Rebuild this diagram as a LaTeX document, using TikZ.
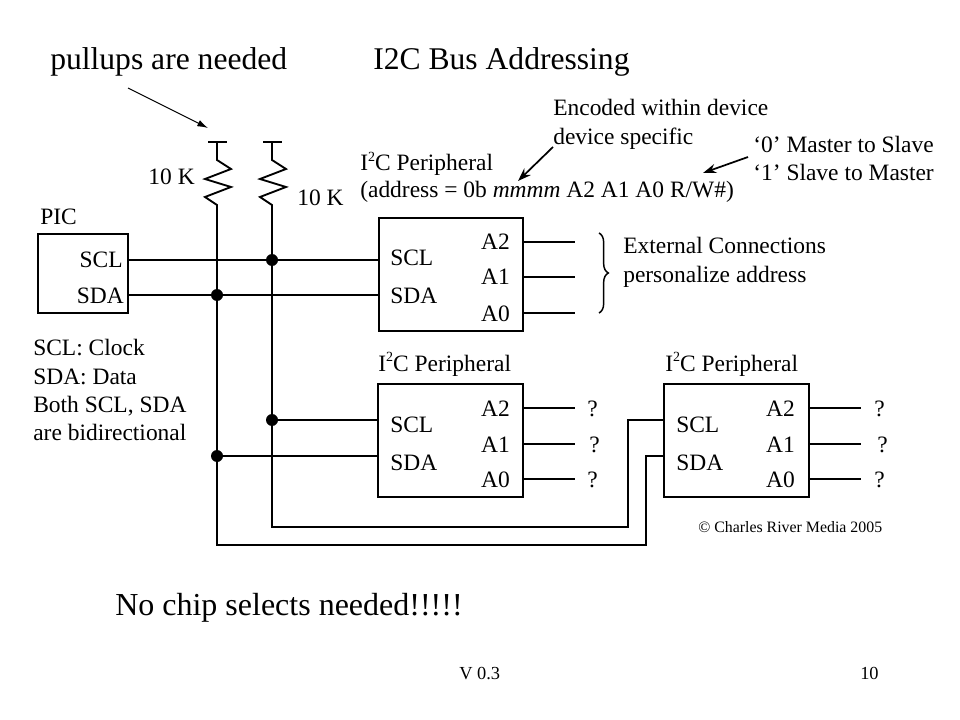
\documentclass[tikz,border=0pt]{standalone}
\usepackage{fontspec}
\setmainfont{Liberation Serif}
\usetikzlibrary{arrows.meta,decorations.pathreplacing}
\newcommand{\sqtwo}{\raisebox{0.42em}{\fontsize{10.5}{10}\selectfont 2}}
\begin{document}
\begin{tikzpicture}[x=0.75pt,y=-0.75pt,
  wire/.style={line width=1.4pt, line join=miter},
  chip/.style={draw, line width=1.4pt, inner sep=0pt},
  lbl/.style={inner sep=0pt, anchor=west, text height=12pt, text depth=0pt, font=\fontsize{17.6}{21}\selectfont},
  lblr/.style={lbl, anchor=east},
  ttl/.style={lbl, text height=16.1pt, font=\fontsize{23.7}{28}\selectfont},
  big/.style={lbl, text height=16.3pt, font=\fontsize{24}{29}\selectfont},
  small/.style={lbl, text height=9.4pt, font=\fontsize{13.8}{16}\selectfont},
  tiny/.style={lbl, text height=8.1pt, font=\fontsize{11.9}{14}\selectfont},
  junc/.style={circle, fill=black, inner sep=0pt, minimum size=9pt},
  ptr/.style={line width=1.3pt, -{Stealth[length=10pt,width=7pt]}},
  thinptr/.style={line width=0.8pt, -{Latex[length=8pt,width=5pt]}}
]
\useasboundingbox (0,0) rectangle (960,720);
\fill[white] (0,0) rectangle (960,720);

% titles
\node[ttl] (pull) at (50,59) {pullups are needed};
\node[ttl] (title) at (373,59) {I2C Bus Addressing};

% PIC
\node[lbl] (piclbl) at (40,217) {PIC};
\node[chip, minimum width=67.5pt, minimum height=59.25pt] (pic) at (83,273.5) {};
\node[lblr] (picscl) at (123,260) {SCL};
\node[lblr] (picsda) at (124,295) {SDA};

% left notes
\node[lbl] (n1) at (33,347) {SCL: Clock};
\node[lbl] (n2) at (33,376) {SDA: Data};
\node[lbl] (n3) at (33,404) {Both SCL, SDA};
\node[lbl] (n4) at (33,432) {are bidirectional};

% resistors
\coordinate (r1t) at (217,142);
\coordinate (r2t) at (272,142);
\draw[wire] (208,142) -- (227,142);
\draw[wire] (263,142) -- (282,142);
\node[lblr] (k1) at (195,177) {10 K};
\node[lbl] (k2) at (297,198) {10 K};

% pullups arrow
\coordinate (pa) at (128,88);
\coordinate (pb) at (208,128);
\draw[thinptr] (pa) -- (pb);

% peripheral 1
\node[lbl] (p1a) at (360,163) {I\sqtwo C Peripheral};
\node[lbl] (p1b) at (360,190) {(address = 0b \textit{mmmm} A2 A1 A0 R/W\#)};
\node[chip, minimum width=108pt, minimum height=84.75pt] (p1) at (451,274.5) {};
\node[lbl] at (390,258) {SCL};
\node[lbl] at (390,295) {SDA};
\node[lblr] at (510,242) {A2};
\node[lblr] at (510,277) {A1};
\node[lblr] at (510,313) {A0};
\coordinate (p1a2) at (523,242); \coordinate (p1a2e) at (575,242);
\coordinate (p1a1) at (523,277); \coordinate (p1a1e) at (575,277);
\coordinate (p1a0) at (523,313); \coordinate (p1a0e) at (575,313);
\draw[wire] (p1a2) -- (p1a2e);
\draw[wire] (p1a1) -- (p1a1e);
\draw[wire] (p1a0) -- (p1a0e);
\draw[line width=1.1pt, decorate, decoration={brace, amplitude=7pt}] (599,233) -- (599,313);
\node[lbl] (ext1) at (623,246) {External Connections};
\node[lbl] (ext2) at (623,275) {personalize address};

% annotations
\node[lbl] (enc1) at (553,108) {Encoded within device};
\node[lbl] (enc2) at (553,137) {device specific};
\node[lbl] (ms1) at (753,145) {‘0’ Master to Slave};
\node[lbl] (ms2) at (753,173) {‘1’ Slave to Master};
\coordinate (a1s) at (553,147); \coordinate (a1e) at (518,181);
\coordinate (a2s) at (748,157); \coordinate (a2e) at (703,173);
\draw[ptr] (a1s) -- (a1e);
\draw[ptr] (a2s) -- (a2e);

% peripheral 2
\node[lbl] (p2l) at (378,363) {I\sqtwo C Peripheral};
\node[chip, minimum width=108.75pt, minimum height=84.75pt] (p2) at (450.5,440.5) {};
\node[lbl] at (390,424) {SCL};
\node[lbl] at (390,462) {SDA};
\node[lblr] at (510,408) {A2};
\node[lblr] at (510,444) {A1};
\node[lblr] at (510,479) {A0};
\coordinate (p2a2) at (523,408); \coordinate (p2a2e) at (575,408);
\coordinate (p2a1) at (523,444); \coordinate (p2a1e) at (575,444);
\coordinate (p2a0) at (523,479); \coordinate (p2a0e) at (575,479);
\draw[wire] (p2a2) -- (p2a2e);
\draw[wire] (p2a1) -- (p2a1e);
\draw[wire] (p2a0) -- (p2a0e);
\node[lbl] at (587,408) {?};
\node[lbl] at (589,444) {?};
\node[lbl] at (587,479) {?};

% peripheral 3
\node[lbl] (p3l) at (665,363) {I\sqtwo C Peripheral};
\node[chip, minimum width=108.75pt, minimum height=84.75pt] (p3) at (736.5,440.5) {};
\node[lbl] at (676,424) {SCL};
\node[lbl] at (676,462) {SDA};
\node[lblr] at (795,408) {A2};
\node[lblr] at (795,444) {A1};
\node[lblr] at (795,479) {A0};
\coordinate (p3a2) at (809,408); \coordinate (p3a2e) at (861,408);
\coordinate (p3a1) at (809,444); \coordinate (p3a1e) at (861,444);
\coordinate (p3a0) at (809,479); \coordinate (p3a0e) at (861,479);
\draw[wire] (p3a2) -- (p3a2e);
\draw[wire] (p3a1) -- (p3a1e);
\draw[wire] (p3a0) -- (p3a0e);
\node[lbl] at (874,408) {?};
\node[lbl] at (877,444) {?};
\node[lbl] at (874,479) {?};

% bus wiring
\coordinate (picsclw) at (128,260);
\coordinate (picsdaw) at (128,295);
\coordinate (p1scl) at (379,260);
\coordinate (p1sda) at (379,295);
\coordinate (p2scl) at (378,420);
\coordinate (p2sda) at (378,456);
\coordinate (p3scl) at (664,420);
\coordinate (p3sda) at (664,456);
\draw[wire] (picsclw) -- (p1scl);
\draw[wire] (picsdaw) -- (p1sda);

\draw[wire] (r1t) -- (217,160) -- (231,169) -- (205,179) -- (231,187) -- (205,197) -- (217,205)
  -- (217,545) -- (646,545) -- (646,456) -- (p3sda);
\draw[wire] (r2t) -- (272,160) -- (286,169) -- (260,179) -- (286,187) -- (260,197) -- (272,205)
  -- (272,527) -- (628,527) -- (628,420) -- (p3scl);

\node[junc] (j1) at (272,260) {};
\node[junc] (j2) at (217,295) {};
\node[junc] (j3) at (272,420) {};
\node[junc] (j4) at (217,456) {};
\draw[wire] (j3) -- (p2scl);
\draw[wire] (j4) -- (p2sda);

% footer
\node[tiny] (copy) at (698,527) {© Charles River Media 2005};
\node[big] (nocs) at (115,605) {No chip selects needed!!!!!};
\node[small] (ver) at (459,673) {V 0.3};
\node[small] (pg) at (860,673) {10};
\end{tikzpicture}
\end{document}
